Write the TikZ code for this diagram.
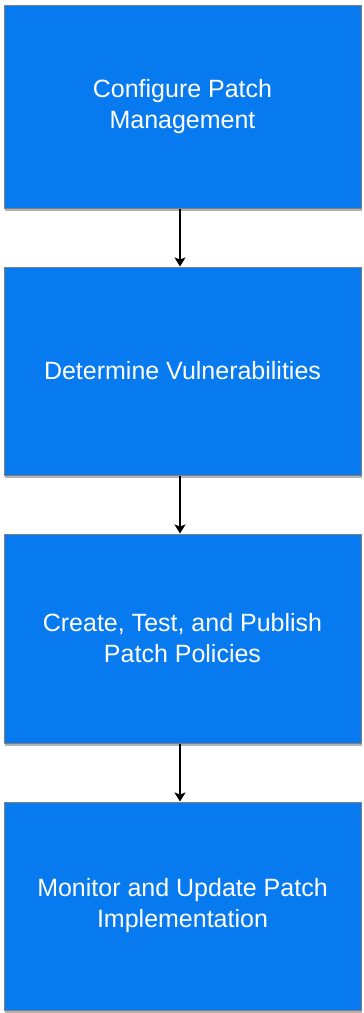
\documentclass[tikz,border=0pt]{standalone}
\usepackage{fontspec}
\setmainfont{Liberation Sans}
\usetikzlibrary{arrows.meta,shadows}
\definecolor{boxblue}{RGB}{8,122,240}
\definecolor{boxedge}{RGB}{128,128,128}
\tikzset{
  stepbox/.style={rectangle, draw=boxedge, line width=1pt, fill=boxblue,
    minimum width=357pt, inner sep=0pt, text=white, align=center,
    font=\fontsize{25pt}{31pt}\selectfont,
    drop shadow={shadow xshift=1pt, shadow yshift=-3pt, fill=black, opacity=0.3}},
  flow/.style={line width=2.2pt, -{Stealth[length=9pt,width=11pt,inset=2pt]}}
}
\begin{document}
\begin{tikzpicture}[x=1pt,y=-1pt]
\useasboundingbox (0,0) rectangle (364,1013);
\node[stepbox, minimum height=203pt] (b1) at (182.5,106.5) {Configure Patch\\Management};
\node[stepbox, minimum height=208pt] (b2) at (182.5,371) {Determine Vulnerabilities};
\node[stepbox, minimum height=209pt] (b3) at (182.5,638.5) {Create, Test, and Publish\\Patch Policies};
\node[stepbox, minimum height=208pt] (b4) at (182.5,906) {Monitor and Update Patch\\Implementation};
\draw[flow] ([xshift=-2.5pt]b1.south) -- ([xshift=-2.5pt]b2.north);
\draw[flow] ([xshift=-2.5pt]b2.south) -- ([xshift=-2.5pt]b3.north);
\draw[flow] ([xshift=-2.5pt]b3.south) -- ([xshift=-2.5pt]b4.north);
\end{tikzpicture}
\end{document}
